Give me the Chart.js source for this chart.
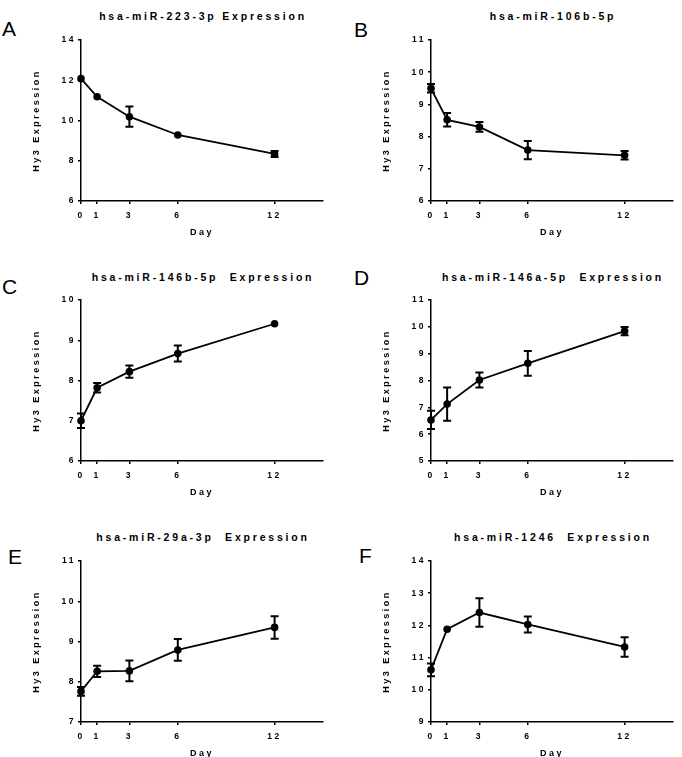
<!DOCTYPE html>
<html>
<head>
<meta charset="utf-8">
<script src="https://cdn.jsdelivr.net/npm/chart.js@4"></script>
<style>
html, body { margin: 0; padding: 0; background: #fff; overflow: hidden; }
body { position: relative; width: 682px; height: 757px; }
canvas { position: absolute; }
.letter { position: absolute; font: 21px 'Liberation Sans', Arial, sans-serif; line-height: 1; color: #000; }
.title { position: absolute; font: bold 10.5px 'Liberation Sans', Arial, sans-serif; letter-spacing: 2.8px;
         line-height: 1; white-space: pre; color: #000; transform: translateX(-50%); }
</style>
</head>
<body>
<script>
// data
const days = [0, 1, 3, 6, 12];
const dayTicks = [0, 1, 3, 6, 12];
const letters = ['A', 'B', 'C', 'D', 'E', 'F'];
const titles = ['hsa-miR-223-3p Expression', 'hsa-miR-106b-5p', 'hsa-miR-146b-5p  Expression',
                'hsa-miR-146a-5p  Expression', 'hsa-miR-29a-3p  Expression', 'hsa-miR-1246  Expression'];

const meanA = [12.08, 11.18, 10.19, 9.28, 8.34];
const errA  = [0, 0, 0.5, 0, 0.15];
const meanB = [9.5, 8.52, 8.3, 7.58, 7.42];
const errB  = [0.13, 0.21, 0.15, 0.28, 0.13];
const meanC = [7.0, 7.82, 8.22, 8.67, 9.41];
const errC  = [0.18, 0.12, 0.15, 0.2, 0];
const meanD = [6.53, 7.12, 8.02, 8.64, 9.84];
const errD  = [0.34, 0.62, 0.28, 0.46, 0.15];
const meanE = [7.76, 8.26, 8.27, 8.79, 9.35];
const errE  = [0.11, 0.14, 0.26, 0.27, 0.28];
const meanF = [10.62, 11.88, 12.4, 12.03, 11.33];
const errF  = [0.2, 0, 0.44, 0.25, 0.3];

const yMin  = [6, 6, 6, 5, 7, 9];
const yMax  = [14, 11, 10, 11, 11, 14];
const yStep = [2, 1, 1, 1, 1, 1];

const means = [meanA, meanB, meanC, meanD, meanE, meanF];
const errs = [errA, errB, errC, errD, errE, errF];

// layout: plot area top-left of each panel, title centre, letter spot
const areas = [[81, 40], [431, 40], [81, 300], [431, 300], [81, 561], [431, 561]];
const titlePos = [[203, 16], [553, 16], [203, 277], [553, 277], [203, 537], [553, 537]];
const letterPos = [[2, 28], [354, 29], [2, 286], [354, 277], [8, 556], [359, 555]];

const FONT = "'Liberation Sans', Arial, sans-serif";

const spacing = {
  id: 'spacing',
  beforeUpdate(chart) { chart.ctx.letterSpacing = '2.5px'; },
  beforeDraw(chart) { chart.ctx.letterSpacing = '2.5px'; }
};

const errorBars = {
  id: 'errorBars',
  afterDatasetsDraw(chart) {
    const ctx = chart.ctx, ys = chart.scales.y;
    const meta = chart.getDatasetMeta(0), ds = chart.data.datasets[0];
    ctx.save();
    ctx.strokeStyle = '#000';
    ctx.lineWidth = 2;
    meta.data.forEach((pt, j) => {
      const e = ds.errors[j];
      if (!e) return;
      const v = ds.data[j].y;
      const top = ys.getPixelForValue(v + e), bot = ys.getPixelForValue(v - e);
      ctx.beginPath();
      ctx.moveTo(pt.x, top); ctx.lineTo(pt.x, bot);
      ctx.moveTo(pt.x - 4, top); ctx.lineTo(pt.x + 4, top);
      ctx.moveTo(pt.x - 4, bot); ctx.lineTo(pt.x + 4, bot);
      ctx.stroke();
    });
    ctx.restore();
  }
};

const axisGrid = { drawOnChartArea: false, drawTicks: true, tickLength: 3, color: '#000', lineWidth: 1.5 };
const axisBorder = { display: true, color: '#000', width: 1.5 };
const tickFont = { family: FONT, size: 8.5, weight: 'bold' };
const titleFont = { family: FONT, size: 9, weight: 'bold' };

for (let i = 0; i < 6; i++) {
  const letter = document.createElement('div');
  letter.className = 'letter';
  letter.textContent = letters[i];
  letter.style.left = letterPos[i][0] + 'px';
  letter.style.top = (letterPos[i][1] - 10.3) + 'px';
  document.body.appendChild(letter);

  const title = document.createElement('div');
  title.className = 'title';
  title.textContent = titles[i];
  title.style.left = titlePos[i][0] + 'px';
  title.style.top = (titlePos[i][1] - 5) + 'px';
  document.body.appendChild(title);

  const canvas = document.createElement('canvas');
  canvas.width = 310;
  canvas.height = 221;
  canvas.style.left = (areas[i][0] - 60) + 'px';
  canvas.style.top = (areas[i][1] - 10) + 'px';
  document.body.appendChild(canvas);

  new Chart(canvas, {
    type: 'line',
    data: {
      datasets: [{
        data: days.map((d, j) => ({ x: d, y: means[i][j] })),
        errors: errs[i],
        borderColor: '#000',
        borderWidth: 1.8,
        pointRadius: 3.8,
        pointBackgroundColor: '#000',
        pointBorderWidth: 0,
        tension: 0,
        clip: false
      }]
    },
    options: {
      responsive: false,
      animation: false,
      layout: { padding: { left: 0, top: 10, right: 8, bottom: 0 } },
      plugins: { legend: { display: false }, tooltip: { enabled: false } },
      scales: {
        x: {
          type: 'linear', min: 0, max: 15,
          afterBuildTicks: s => { s.ticks = dayTicks.map(v => ({ value: v })); },
          afterFit: s => { s.height = 50; },
          grid: axisGrid, border: axisBorder,
          ticks: { color: '#000', font: tickFont, padding: 6.5, autoSkip: false, maxRotation: 0, callback: v => String(v) },
          title: { display: true, text: 'Day', color: '#000', font: titleFont, padding: { top: 4, bottom: 12.6 } }
        },
        y: {
          min: yMin[i], max: yMax[i],
          afterFit: s => { s.width = 60; },
          grid: axisGrid, border: axisBorder,
          ticks: { stepSize: yStep[i], color: '#000', font: tickFont, padding: 2 },
          title: { display: true, text: 'Hy3 Expression', color: '#000', font: titleFont, padding: { top: 10, bottom: 4 } }
        }
      }
    },
    plugins: [spacing, errorBars]
  });
}
</script>
</body>
</html>
